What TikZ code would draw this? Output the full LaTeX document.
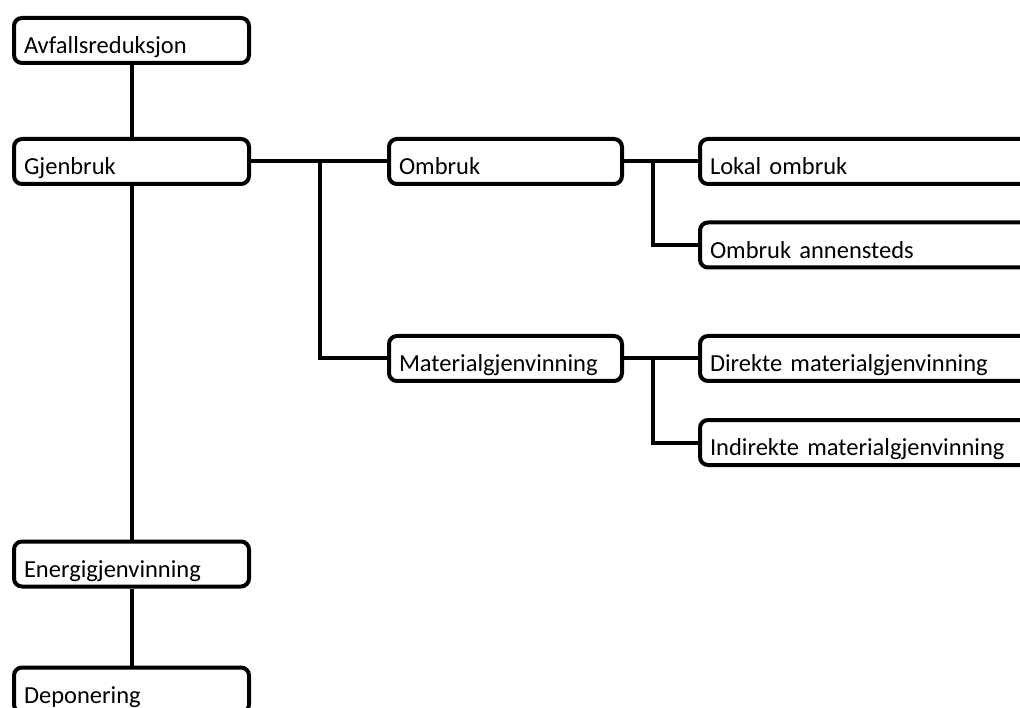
\documentclass[tikz,border=0pt]{standalone}
\usepackage{fontspec}
\setmainfont{Carlito}
\usetikzlibrary{calc}
\tikzset{
  box/.style={draw=black, line width=4pt, rounded corners=8pt, rectangle,
    anchor=north west, inner xsep=10pt, inner ysep=0pt,
    minimum height=45pt, text height=26.4pt, text depth=0pt,
    align=left, font=\fontsize{24.5}{28}\selectfont},
  lbox/.style={box, text width=215pt},
  rbox/.style={box, text width=340pt},
  conn/.style={draw=black, line width=4pt}
}
\begin{document}
\begin{tikzpicture}[x=1pt,y=-1pt]
\useasboundingbox (0,0) rectangle (1020,708);
\fill[white] (0,0) rectangle (1020,708);
\clip (0,0) rectangle (1020,708);
% left column
\node[lbox] (avf) at (12,16) {Avfallsreduksjon};
\node[lbox] (gjen) at (12,137) {Gjenbruk};
\node[lbox] (energi) at (12,539.5) {Energigjenvinning};
\node[lbox] (dep) at (12,665.5) {Deponering};
% middle column
\node[box, text width=213pt] (omb) at (387,137) {Ombruk};
\node[box, text width=213pt] (mat) at (387,334) {Materialgjenvinning};
% right column
\node[rbox] (lok) at (698,137) {Lokal ombruk};
\node[rbox] (ann) at (698,220.5) {Ombruk annensteds};
\node[rbox] (dir) at (698,334) {Direkte materialgjenvinning};
\node[rbox] (ind) at (698,418) {Indirekte materialgjenvinning};
% branch coordinates
\coordinate (b1) at (320,0);
\coordinate (b2) at (653,0);
% connectors
\draw[conn] (avf.south) -- (gjen.north);
\draw[conn] (gjen.south) -- (energi.north);
\draw[conn] (energi.south) -- (dep.north);
\draw[conn] (gjen.east) -- (omb.west);
\draw[conn] (b1 |- gjen.east) |- (mat.west);
\draw[conn] (omb.east) -- (lok.west);
\draw[conn] (b2 |- omb.east) |- (ann.west);
\draw[conn] (mat.east) -- (dir.west);
\draw[conn] (b2 |- mat.east) |- (ind.west);
\end{tikzpicture}
\end{document}
